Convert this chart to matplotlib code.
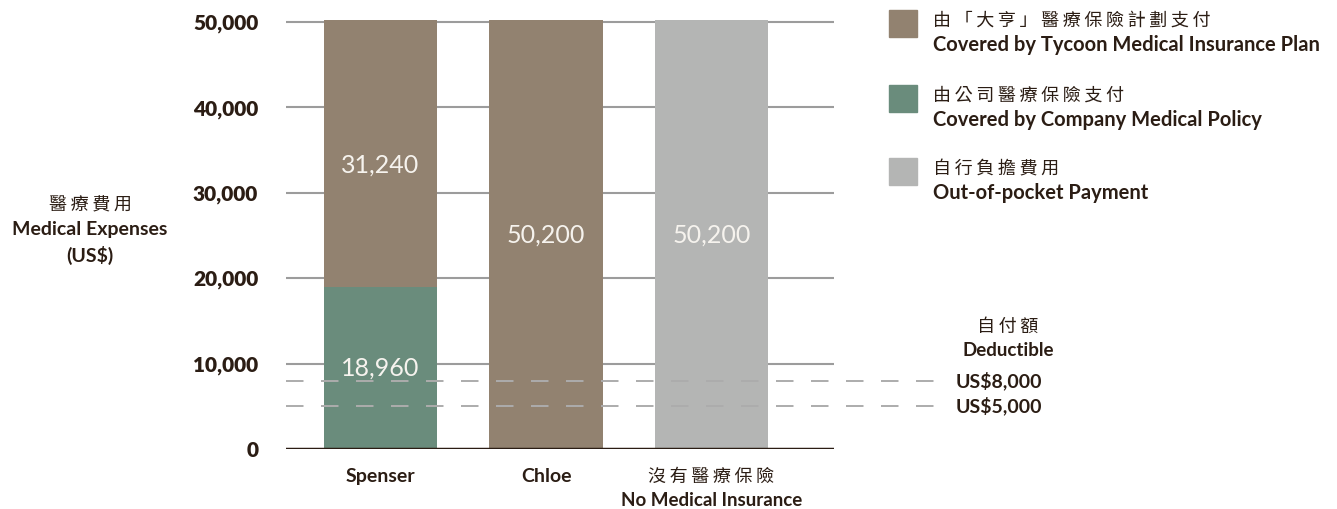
import matplotlib
matplotlib.use("Agg")
import matplotlib.pyplot as plt
from matplotlib.patches import Rectangle

# data
categories = ["Spenser", "Chloe", "沒有醫療保險"]
categories_en2 = ["", "", "No Medical Insurance"]
company_paid = [18960, 0, 0]
tycoon_paid = [31240, 50200, 0]
self_paid = [0, 0, 50200]
deductibles = [8000, 5000]
deductible_labels = ["US$8,000", "US$5,000"]
yticks = [0, 10000, 20000, 30000, 40000, 50000]

legend_items = [
    ("由「大亨」醫療保險計劃支付", "Covered by Tycoon Medical Insurance Plan"),
    ("由公司醫療保險支付", "Covered by Company Medical Policy"),
    ("自行負擔費用", "Out-of-pocket Payment"),
]

BROWN = "#928270"
GREEN = "#6a8c7c"
GREY = "#b4b5b4"
DARK = "#2b1d14"
CJK = ["Noto Sans CJK TC", "DejaVu Sans"]
LAT = ["Lato", "Noto Sans CJK TC", "DejaVu Sans"]


def spaced(s):
    # loose letter spacing like the original CJK typesetting
    return "\u2009".join(s)


fig = plt.figure(figsize=(13.37, 5.09), dpi=100)
ax = fig.add_axes([0.2139, 0.1179, 0.4099, 0.8725])

x = [0, 1, 2]
w = 0.683
ax.bar(x, company_paid, w, color=GREEN, zorder=2)
ax.bar(x, tycoon_paid, w, bottom=company_paid, color=BROWN, zorder=2)
ax.bar(x, self_paid, w, color=GREY, zorder=2)

# value labels
for i in x:
    segs = [(0, company_paid[i]), (company_paid[i], tycoon_paid[i]), (0, self_paid[i])]
    for base, val in segs:
        if val > 0:
            ax.text(i, base + val / 2 - (1300 if base > 0 else 0), f"{val:,}",
                    ha="center", va="center", color="#f6f3ee", fontsize=18,
                    family=LAT, zorder=4)

ax.set_xlim(-0.571, 2.740)
ax.set_ylim(0, 52000)

for t in yticks[1:]:
    ax.axhline(t, color="#9c9c9c", lw=1.5, zorder=1)
ax.axhline(0, color=DARK, lw=2.5, zorder=5)

# deductible dashed lines extending past the plot
for d in deductibles:
    ax.plot([-0.571, 3.41], [d, d], color="#acacac", lw=1.4,
            dashes=(9, 9), clip_on=False, zorder=3)

for s in ax.spines.values():
    s.set_visible(False)
ax.set_yticks(yticks)
ax.set_yticklabels([f"{t:,}" for t in yticks], family=LAT, fontweight="heavy",
                   fontsize=15, color=DARK)
ax.tick_params(axis="y", length=0, pad=20)
ax.set_xticks([])

# category labels
tr = ax.get_xaxis_transform()
for i, (c1, c2) in enumerate(zip(categories, categories_en2)):
    if c2:
        ax.text(i, -0.063, spaced(c1), transform=tr, family=CJK, fontsize=13,
                color=DARK, ha="center", va="center")
        ax.text(i, -0.116, c2, transform=tr, family=LAT, fontweight="bold",
                fontsize=13.5, color=DARK, ha="center", va="center")
    else:
        ax.text(i, -0.063, c1, transform=tr, family=LAT, fontweight="bold",
                fontsize=14, color=DARK, ha="center", va="center")

# y axis title
fig.text(90 / 1337, 1 - 205 / 509, spaced("醫療費用"), family=CJK, fontsize=13,
         color=DARK, ha="center", va="center")
fig.text(90 / 1337, 1 - 229 / 509, "Medical Expenses", family=LAT,
         fontweight="bold", fontsize=14, color=DARK, ha="center", va="center")
fig.text(90 / 1337, 1 - 255 / 509, "(US$)", family=LAT,
         fontweight="bold", fontsize=14, color=DARK, ha="center", va="center")

# legend
colors = [BROWN, GREEN, GREY]
tops = [10, 85, 158]
for (zh, en), c, top in zip(legend_items, colors, tops):
    fig.patches.append(Rectangle((889 / 1337, 1 - (top + 27) / 509), 28 / 1337, 27 / 509,
                                 transform=fig.transFigure, color=c))
    fig.text(933 / 1337, 1 - (top + 11) / 509, spaced(zh), family=CJK, fontsize=13,
             color=DARK, ha="left", va="center")
    fig.text(933 / 1337, 1 - (top + 35) / 509, en, family=LAT, fontweight="bold",
             fontsize=14.5, color=DARK, ha="left", va="center")

# deductible labels
fig.text(1008 / 1337, 1 - 327 / 509, spaced("自付額"), family=CJK, fontsize=13,
         color=DARK, ha="center", va="center")
fig.text(1008 / 1337, 1 - 351 / 509, "Deductible", family=LAT, fontweight="bold",
         fontsize=13.5, color=DARK, ha="center", va="center")
for d, lab in zip(deductibles, deductible_labels):
    ax.annotate(lab, xy=(3.41, d), xytext=(8, 0), textcoords="offset points",
                family=LAT, fontweight="bold", fontsize=14, color=DARK,
                ha="left", va="center", annotation_clip=False)

fig.savefig("out.png", dpi=100, facecolor="white")
